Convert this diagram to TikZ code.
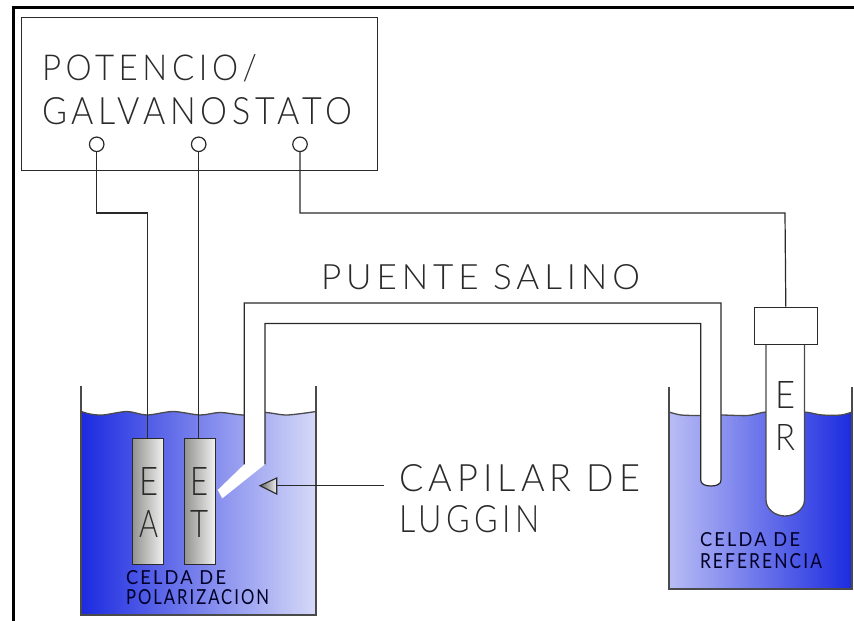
\documentclass[tikz,border=0pt]{standalone}
\usepackage{fontspec}
\usepackage{graphicx}
\newfontfamily\cad[LetterSpace=14]{Lato Light}
\newfontfamily\cadsmall[LetterSpace=12]{Lato}
\definecolor{ink}{HTML}{2A2A2A}
\definecolor{bluedeep}{HTML}{1C2BE0}
\definecolor{bluepale}{HTML}{D6D9F8}
\definecolor{bluemid}{HTML}{B9BDF5}
\definecolor{metaldark}{HTML}{939391}
\definecolor{metallight}{HTML}{F0F0F0}
% \lbl{name}{x0}{x1}{ytop}{ybottom}{text}
\newcommand{\lbl}[6]{%
  \pgfmathsetmacro{\lw}{#3-#2}\pgfmathsetmacro{\lh}{#5-#4}%
  \node[textlabel] (#1) at (#2,#5) {\resizebox{\lw pt}{\lh pt}{\cad #6}};}
\newcommand{\lbs}[6]{%
  \pgfmathsetmacro{\lw}{#3-#2}\pgfmathsetmacro{\lh}{#5-#4}%
  \node[textlabel,text=black!85!blue] (#1) at (#2,#5) {\resizebox{\lw pt}{\lh pt}{\cadsmall #6}};}
\tikzset{
  x=1pt,y=-1pt,
  wire/.style={draw=ink,line width=1.2pt},
  wall/.style={draw=ink!85,line width=1.3pt},
  textlabel/.style={anchor=south west,inner sep=0pt,outer sep=0pt,text=ink},
  terminal/.style={circle,draw=ink,line width=1.2pt,fill=white,inner sep=0pt,minimum size=14.5pt},
  electrode/.style={rectangle,draw=ink,line width=1.2pt,inner sep=0pt,left color=metaldark,right color=metallight,anchor=north west},
}
\begin{document}
\begin{tikzpicture}
\useasboundingbox (0,0) rectangle (854,621);
\fill[white] (0,0) rectangle (854,621);
% outer frame
\draw[black,line width=2.2pt] (13.5,621) -- (13.5,7.5) -- (854,7.5);
% instrument
\node[rectangle,draw=ink,line width=1.2pt,anchor=north west,minimum width=356pt,minimum height=153.3pt,inner sep=0pt] (inst) at (20.7,16.7) {};
\node[terminal] (t1) at (96.7,144.3) {};
\node[terminal] (t2) at (198.7,144.3) {};
\node[terminal] (t3) at (300,144.3) {};
\lbl{tpot}{42}{257}{56}{82}{POTENCIO/}
\lbl{tgal}{42}{352}{98}{125}{GALVANOSTATO}
% left cell water
\shade[left color=bluedeep,right color=bluepale]
  plot[smooth] coordinates {(81.5,411.5) (90,414) (103,415) (127,411.5) (147,415) (173,411.5) (200,415) (220,412.5) (244,415) (265,412.5) (287,415) (316,411.5)}
  -- (316,615) -- (81.5,615) -- cycle;
\draw[wall] plot[smooth] coordinates {(81.5,411.5) (90,414) (103,415) (127,411.5) (147,415) (173,411.5) (200,415) (220,412.5) (244,415) (265,412.5) (287,415) (316,411.5)};
\draw[wall] (81,386) -- (81,615) -- (316,615) -- (316,386);
% right cell water
\shade[left color=bluemid,right color=bluedeep]
  plot[smooth] coordinates {(669,412) (681,415) (700,415.5) (721,415) (748,415.5) (766,412) (785,414) (804,412) (822,415) (841,415) (852,412)}
  -- (852,589) -- (669,589) -- cycle;
\draw[wall] plot[smooth] coordinates {(669,412) (681,415) (700,415.5) (721,415) (748,415.5) (766,412) (785,414) (804,412) (822,415) (841,415) (852,412)};
\draw[wall] (669,386.5) -- (669,589) -- (852,589) -- (852,386.5);
% electrodes
\node[electrode,minimum width=31pt,minimum height=126pt] (ea) at (132,438) {};
\node[electrode,minimum width=30.5pt,minimum height=126pt] (et) at (184,438) {};
% salt bridge
\fill[white] (217.7,490) -- (244.3,464.3) -- (244.3,303) -- (721,303) -- (721,480)
  .. controls (721,484) and (717,486) .. (711,486) .. controls (705,486) and (700.7,484) .. (700.7,480)
  -- (700.7,323.5) -- (265,323.5) -- (265,464.3) -- (222.3,498.3) -- cycle;
\draw[wire] (244.3,464.3) -- (244.3,303) -- (721,303) -- (721,480)
  .. controls (721,484) and (717,486) .. (711,486) .. controls (705,486) and (700.7,484) .. (700.7,480)
  -- (700.7,323.5) -- (265,323.5) -- (265,464.3);
% reference tube
\draw[wall,fill=white] (766,344) -- (766,500) .. controls (766,509) and (775,516) .. (785,516)
  .. controls (795,516) and (804.5,509) .. (804.5,500) -- (804.5,344);
\node[rectangle,draw=ink,line width=1.2pt,fill=white,anchor=north west,minimum width=63pt,minimum height=37.3pt,inner sep=0pt] (cap) at (753.7,306.7) {};
% wires
\draw[wire] (t1.south) |- (147.7,213) -- (ea.north -| 147.7,0);
\draw[wire] (t2.south) -- (et.north -| t2.south);
\draw[wire] (t3.south) |- (785,213) -- (cap.north);
% capillary pointer
\coordinate (ptrend) at (384,485.7);
\node[inner sep=0pt,minimum size=0pt] (ptrtip) at (260,485.7) {};
\draw[draw=ink,line width=1.1pt,left color=metaldark!70!black,right color=metallight] (ptrtip.center) -- (276.7,478) -- (276.7,494) -- cycle;
\draw[wire] (ptrend) -- (276.7,485.7);
% texts
\lbl{tpue}{321}{640}{265}{290}{PUENTE SALINO}
\lbl{tcap}{399}{640}{465}{492}{CAPILAR DE}
\lbl{tlug}{399}{540}{506}{533}{LUGGIN}
\lbl{tea1}{139}{158}{467}{495}{E}
\lbl{tea2}{139}{158}{510}{537}{A}
\lbl{tet1}{190}{208}{467}{495}{E}
\lbl{tet2}{190}{208}{510}{537}{T}
\lbl{ter1}{775}{795}{381}{408}{E}
\lbl{ter2}{775}{795}{424}{450}{R}
\lbs{tc1}{126}{226}{571}{585}{CELDA DE}
\lbs{tc2}{126}{269}{590}{605}{POLARIZACION}
\lbs{tc3}{700}{800}{533}{547}{CELDA DE}
\lbs{tc4}{700}{822}{554}{569}{REFERENCIA}
\end{tikzpicture}
\end{document}
